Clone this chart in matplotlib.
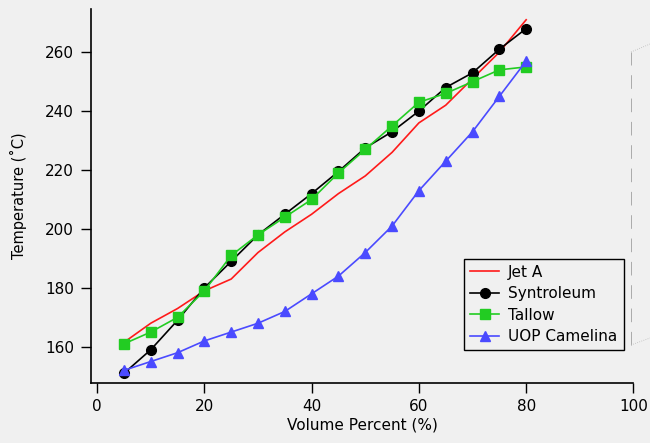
# Distillation curves: temperature vs volume percent for jet fuels

import matplotlib.pyplot as plt
from matplotlib.lines import Line2D

volume = [5, 10, 15, 20, 25, 30, 35, 40, 45, 50, 55, 60, 65, 70, 75, 80]

jet_a = [161.5, 168, 173, 179, 183, 192, 199, 205, 212, 218, 226, 236, 242, 251, 260, 271]
syntroleum = [151, 159, 169, 180, 189, 198, 205, 212, 219.5, 227.5, 233, 240, 248, 253, 261, 268]
tallow = [161, 165, 170, 179, 191, 198, 204, 210, 219, 227, 235, 243, 246, 250, 254, 255]
camelina = [152, 155, 158, 162, 165, 168, 172, 178, 184, 192, 201, 213, 223, 233, 245, 257]

xticks = [0, 20, 40, 60, 80, 100]
yticks = [160, 180, 200, 220, 240, 260]


def main():

    bg = '#f0f0f0'
    plt.rcParams['font.family'] = 'DejaVu Sans'

    fig = plt.figure(figsize=(6.5, 4.43), dpi=100, facecolor=bg)
    ax = fig.add_axes([0.1395, 0.136, 0.835, 0.844], facecolor=bg)

    ax.plot(volume, jet_a, color='#ff1a1a', linewidth=1.2, label='Jet A')
    ax.plot(volume, syntroleum, color='black', linewidth=1.2, marker='o',
            markersize=7, label='Syntroleum')
    ax.plot(volume, tallow, color='#22cc22', linewidth=1.2, marker='s',
            markersize=6.5, label='Tallow')
    ax.plot(volume, camelina, color='#4a4aff', linewidth=1.2, marker='^',
            markersize=7.5, label='UOP Camelina')

    ax.set_xlim(-1.2, 100)
    ax.set_ylim(147.8, 274.7)
    ax.set_xticks(xticks)
    ax.set_yticks(yticks)

    ax.spines['top'].set_visible(False)
    ax.spines['right'].set_visible(False)
    for s in ['left', 'bottom']:
        ax.spines[s].set_linewidth(1.2)
    ax.tick_params(direction='out', length=7, width=1.0, labelsize=11, pad=5)

    ax.set_xlabel('Volume Percent (%)', fontsize=11, labelpad=2)
    ax.set_ylabel('Temperature (˚C)', fontsize=10.5, labelpad=13)

    leg = ax.legend(loc='lower right', bbox_to_anchor=(0.982, 0.0875), fontsize=11,
                    fancybox=False, edgecolor='black', facecolor=bg, framealpha=1,
                    handlelength=1.9, borderpad=0.4, labelspacing=0.42,
                    handletextpad=0.6, borderaxespad=0)
    leg.get_frame().set_linewidth(1.0)

    # faint box edge at the right margin (as in the source image)
    fig.lines.append(Line2D([631/650, 631/650], [1 - 345/443, 1 - 52/443],
                            transform=fig.transFigure, color='#aaaaaa',
                            linewidth=0.7, linestyle=(0, (14, 10))))
    fig.lines.append(Line2D([631/650, 650/650], [1 - 52/443, 1 - 44/443],
                            transform=fig.transFigure, color='#bbbbbb',
                            linewidth=0.6, linestyle=':'))
    fig.lines.append(Line2D([631/650, 650/650], [1 - 345/443, 1 - 338/443],
                            transform=fig.transFigure, color='#bbbbbb',
                            linewidth=0.6, linestyle=':'))

    fig.savefig('out.png', dpi=100, facecolor=bg)


if __name__ == "__main__":
    main()
